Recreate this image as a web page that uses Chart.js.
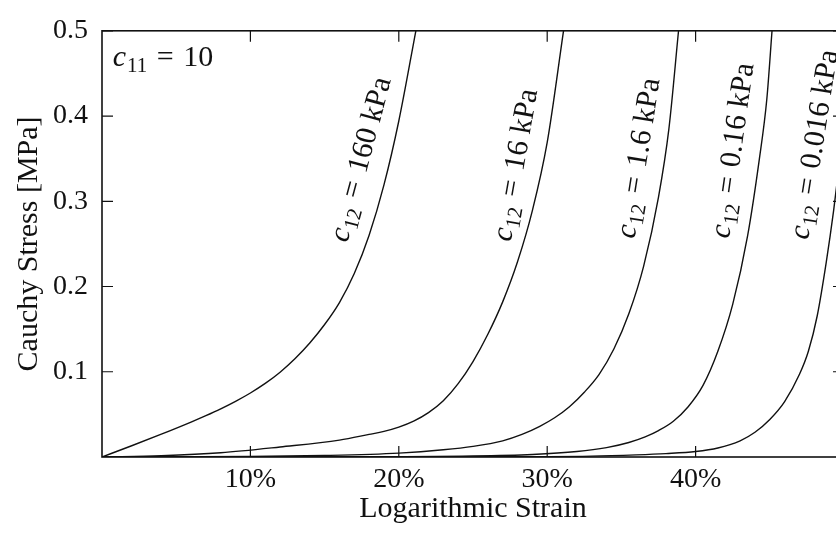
<!DOCTYPE html>
<html>
<head>
<meta charset="utf-8">
<script src="https://cdn.jsdelivr.net/npm/chart.js@4.4.0/dist/chart.umd.min.js"></script>
<style>
  html, body { margin: 0; padding: 0; background: #fff; overflow: hidden; }
  #wrap { width: 850px; height: 533px; }
</style>
</head>
<body>
<div id="wrap"><canvas id="myChart" width="850" height="533"></canvas></div>
<script>
// values: strain in %, Cauchy stress in MPa
const strain160 = [0, 2, 4, 6, 7, 8, 9, 10, 11, 12, 13, 14, 15, 16, 17, 18, 19, 20, 21.15];
const stress160 = [0, 0.0132, 0.0268, 0.041, 0.0485, 0.0565, 0.0653, 0.0751, 0.0863, 0.0995, 0.1152, 0.1337, 0.1554, 0.1812, 0.2152, 0.2602, 0.3192, 0.3942, 0.5];

const strain16 = [0, 4, 8, 12, 16, 18, 19, 20, 21, 22, 23, 24, 25, 26, 27, 28, 29, 30, 31.1];
const stress16 = [0, 0.0015, 0.005, 0.0118, 0.0198, 0.0265, 0.030, 0.035, 0.042, 0.052, 0.066, 0.086, 0.112, 0.144, 0.182, 0.229, 0.289, 0.369, 0.5];

const strain1_6 = [0, 10, 15, 20, 23, 25, 27, 28.3, 29.5, 30.5, 31.5, 32.5, 33.5, 34.5, 35.5, 36.5, 37.5, 38.2, 38.85];
const stress1_6 = [0, 0.0006, 0.0018, 0.0046, 0.0085, 0.0125, 0.019, 0.0265, 0.036, 0.046, 0.059, 0.076, 0.097, 0.127, 0.168, 0.224, 0.305, 0.385, 0.5];

const strain0_16 = [0, 15, 25, 29, 32, 34, 35.5, 36.6, 37.5, 38.5, 39.5, 40.5, 41.5, 42.5, 43.5, 44.3, 44.8, 45.15];
const stress0_16 = [0, 0.0002, 0.0012, 0.003, 0.0064, 0.011, 0.017, 0.0236, 0.031, 0.042, 0.059, 0.084, 0.124, 0.179, 0.259, 0.35, 0.42, 0.5];

const strain0_016 = [0, 25, 33, 36, 38, 40, 41.5, 43, 44, 45, 46, 47, 47.6, 48.2, 48.8, 49.3, 49.8, 50.3];
const stress0_016 = [0, 0.0002, 0.001, 0.0025, 0.004, 0.0064, 0.0105, 0.019, 0.029, 0.044, 0.065, 0.097, 0.124, 0.166, 0.228, 0.289, 0.36, 0.44];

const c12Values = ['160', '16', '1.6', '0.16', '0.016'];
const xTicks = [10, 20, 30, 40];
const yTicks = [0.1, 0.2, 0.3, 0.4, 0.5];

// where the curve labels sit (data coords) and their tilt
const labelX = [17.34, 27.76, 36.05, 42.4, 47.9];
const labelY = [0.3497, 0.343, 0.351, 0.36, 0.367];
const labelAngle = [-75, -80, -81, -82, -81];

const serif = "'Liberation Serif', 'Times New Roman', serif";

function toPoints(xs, ys) {
  return xs.map((x, i) => ({ x: x, y: ys[i] }));
}

const series = [
  [strain160, stress160],
  [strain16, stress16],
  [strain1_6, stress1_6],
  [strain0_16, stress0_16],
  [strain0_016, stress0_016]
];

const data = {
  datasets: series.map((s, i) => ({
    label: 'c12 = ' + c12Values[i] + ' kPa',
    data: toPoints(s[0], s[1]),
    borderColor: '#111',
    borderWidth: 1.4,
    pointRadius: 0,
    fill: false,
    cubicInterpolationMode: 'monotone'
  }))
};

// box round the plot and ticks pointing inwards on all four sides
const frame = {
  id: 'frame',
  afterDatasetsDraw(chart) {
    const { ctx, chartArea: a, scales } = chart;
    const len = 11;
    ctx.save();
    ctx.strokeStyle = '#111';
    ctx.lineWidth = 1.6;
    ctx.strokeRect(a.left, a.top, a.right - a.left, a.bottom - a.top);
    ctx.lineWidth = 1.2;
    ctx.beginPath();
    xTicks.forEach(v => {
      const px = scales.x.getPixelForValue(v);
      ctx.moveTo(px, a.bottom); ctx.lineTo(px, a.bottom - len);
      ctx.moveTo(px, a.top); ctx.lineTo(px, a.top + len);
    });
    yTicks.forEach(v => {
      const py = scales.y.getPixelForValue(v);
      ctx.moveTo(a.left, py); ctx.lineTo(a.left + len, py);
      ctx.moveTo(a.right, py); ctx.lineTo(a.right - len, py);
    });
    ctx.stroke();
    ctx.restore();
  }
};

function drawSubLabel(ctx, sub, rest, size) {
  // "c_sub = rest", centred on the origin
  const big = size + 'px ' + serif;
  const small = Math.round(size * 0.7) + 'px ' + serif;
  ctx.font = 'italic ' + big;
  const wc = ctx.measureText('c').width;
  ctx.font = small;
  const ws = ctx.measureText(sub).width;
  ctx.font = big;
  const weq = ctx.measureText('=').width;
  const wr = ctx.measureText(rest).width;
  const gap = size * 0.32;
  const total = wc + 1 + ws + gap + weq + gap + wr;
  const base = size * 0.34;
  let x = -total / 2;
  ctx.textAlign = 'left';
  ctx.textBaseline = 'alphabetic';
  ctx.font = 'italic ' + big;
  ctx.fillText('c', x, base);
  x += wc + 1;
  ctx.font = small;
  ctx.fillText(sub, x, base + size * 0.2);
  x += ws + gap;
  ctx.font = big;
  ctx.fillText('=', x, base);
  x += weq + gap;
  ctx.fillText(rest, x, base);
}

const curveLabels = {
  id: 'curveLabels',
  afterDraw(chart) {
    const { ctx, chartArea: a, scales } = chart;
    ctx.save();
    ctx.fillStyle = '#111';
    ctx.beginPath();
    ctx.rect(a.left, a.top, a.right - a.left, a.bottom - a.top);
    ctx.clip();
    c12Values.forEach((v, i) => {
      ctx.save();
      ctx.translate(scales.x.getPixelForValue(labelX[i]), scales.y.getPixelForValue(labelY[i]));
      ctx.rotate(labelAngle[i] * Math.PI / 180);
      drawSubLabel(ctx, '12', v + ' kPa', 30);
      ctx.restore();
    });
    // c11 = 10 in the top left corner
    ctx.save();
    ctx.translate(a.left + 61, a.top + 25);
    drawSubLabel(ctx, '11', '10', 30);
    ctx.restore();
    ctx.restore();
  }
};

const config = {
  type: 'line',
  data: data,
  options: {
    responsive: false,
    animation: false,
    devicePixelRatio: 1,
    layout: { padding: { top: 21, right: 4, left: 0, bottom: 0 } },
    plugins: {
      legend: { display: false },
      tooltip: { enabled: false }
    },
    scales: {
      x: {
        type: 'linear',
        min: 0,
        max: 50,
        afterFit: scale => { scale.height = 76; },
        grid: { display: false, drawTicks: false },
        border: { display: false },
        ticks: {
          stepSize: 10,
          autoSkip: false,
          maxRotation: 0,
          padding: 6,
          color: '#111',
          font: { family: serif, size: 28 },
          callback: v => (v === 0 || v === 50) ? '' : v + '%'
        },
        title: {
          display: true,
          text: 'Logarithmic Strain',
          color: '#111',
          font: { family: serif, size: 30, weight: 'normal' },
          padding: { top: 0, bottom: 6 }
        }
      },
      y: {
        min: 0,
        max: 0.5,
        afterFit: scale => { scale.width = 102; },
        grid: { display: false, drawTicks: false },
        border: { display: false },
        ticks: {
          stepSize: 0.1,
          autoSkip: false,
          padding: 14,
          color: '#111',
          font: { family: serif, size: 28 },
          callback: v => v === 0 ? '' : v.toFixed(1)
        },
        title: {
          display: true,
          text: 'Cauchy Stress [MPa]',
          color: '#111',
          font: { family: serif, size: 30, weight: 'normal' },
          padding: { top: 11, bottom: 0 }
        }
      }
    }
  },
  plugins: [frame, curveLabels]
};

const myChart = new Chart(document.getElementById('myChart'), config);
</script>
</body>
</html>
